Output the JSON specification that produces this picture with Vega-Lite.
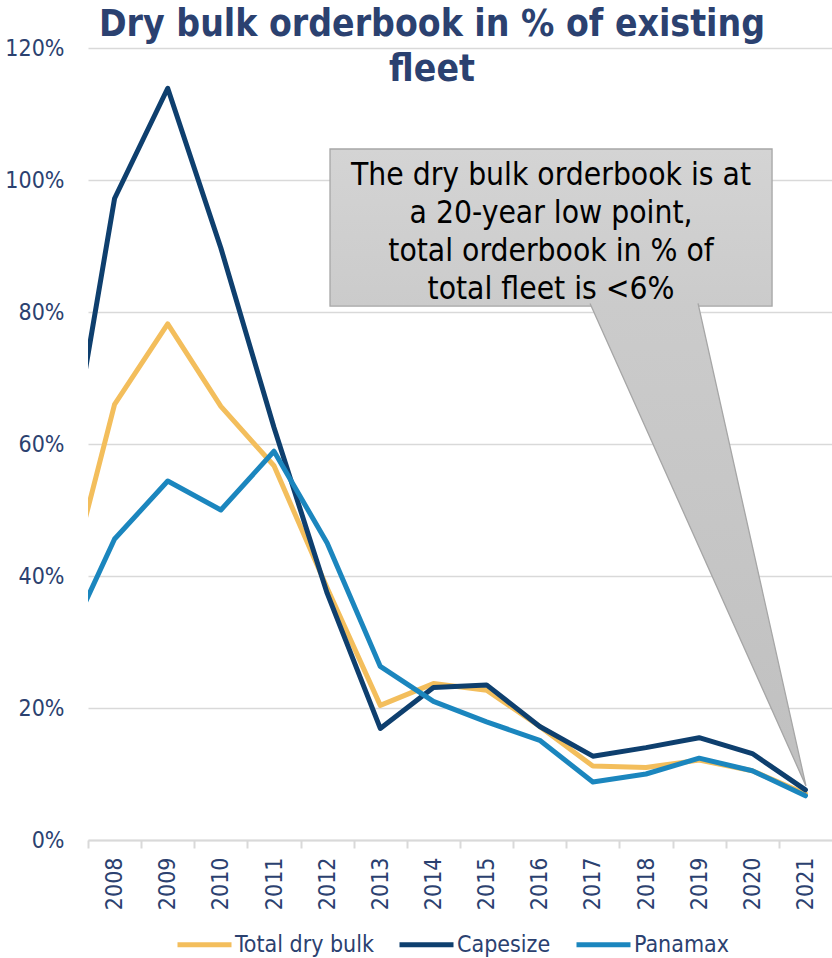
{
  "$schema": "https://vega.github.io/schema/vega-lite/v6.json",
  "autosize": {"type": "none"},
  "width": 744,
  "height": 792,
  "padding": {"left": 88, "top": 48, "right": 0, "bottom": 118},
  "background": "white",
  "config": {
    "view": {"stroke": null},
    "font": "DejaVu Sans Condensed"
  },
  "datasets": {
    "orderbook": [
      {"Year": 2007, "Series": "Total dry bulk", "Share": 0.346},
      {"Year": 2008, "Series": "Total dry bulk", "Share": 0.660},
      {"Year": 2009, "Series": "Total dry bulk", "Share": 0.782},
      {"Year": 2010, "Series": "Total dry bulk", "Share": 0.657},
      {"Year": 2011, "Series": "Total dry bulk", "Share": 0.567},
      {"Year": 2012, "Series": "Total dry bulk", "Share": 0.382},
      {"Year": 2013, "Series": "Total dry bulk", "Share": 0.204},
      {"Year": 2014, "Series": "Total dry bulk", "Share": 0.237},
      {"Year": 2015, "Series": "Total dry bulk", "Share": 0.227},
      {"Year": 2016, "Series": "Total dry bulk", "Share": 0.172},
      {"Year": 2017, "Series": "Total dry bulk", "Share": 0.112},
      {"Year": 2018, "Series": "Total dry bulk", "Share": 0.110},
      {"Year": 2019, "Series": "Total dry bulk", "Share": 0.121},
      {"Year": 2020, "Series": "Total dry bulk", "Share": 0.105},
      {"Year": 2021, "Series": "Total dry bulk", "Share": 0.070},
      {"Year": 2007, "Series": "Capesize", "Share": 0.499},
      {"Year": 2008, "Series": "Capesize", "Share": 0.972},
      {"Year": 2009, "Series": "Capesize", "Share": 1.139},
      {"Year": 2010, "Series": "Capesize", "Share": 0.897},
      {"Year": 2011, "Series": "Capesize", "Share": 0.625},
      {"Year": 2012, "Series": "Capesize", "Share": 0.374},
      {"Year": 2013, "Series": "Capesize", "Share": 0.169},
      {"Year": 2014, "Series": "Capesize", "Share": 0.231},
      {"Year": 2015, "Series": "Capesize", "Share": 0.235},
      {"Year": 2016, "Series": "Capesize", "Share": 0.172},
      {"Year": 2017, "Series": "Capesize", "Share": 0.127},
      {"Year": 2018, "Series": "Capesize", "Share": 0.140},
      {"Year": 2019, "Series": "Capesize", "Share": 0.155},
      {"Year": 2020, "Series": "Capesize", "Share": 0.131},
      {"Year": 2021, "Series": "Capesize", "Share": 0.076},
      {"Year": 2007, "Series": "Panamax", "Share": 0.282},
      {"Year": 2008, "Series": "Panamax", "Share": 0.456},
      {"Year": 2009, "Series": "Panamax", "Share": 0.544},
      {"Year": 2010, "Series": "Panamax", "Share": 0.500},
      {"Year": 2011, "Series": "Panamax", "Share": 0.589},
      {"Year": 2012, "Series": "Panamax", "Share": 0.450},
      {"Year": 2013, "Series": "Panamax", "Share": 0.263},
      {"Year": 2014, "Series": "Panamax", "Share": 0.210},
      {"Year": 2015, "Series": "Panamax", "Share": 0.179},
      {"Year": 2016, "Series": "Panamax", "Share": 0.151},
      {"Year": 2017, "Series": "Panamax", "Share": 0.088},
      {"Year": 2018, "Series": "Panamax", "Share": 0.100},
      {"Year": 2019, "Series": "Panamax", "Share": 0.124},
      {"Year": 2020, "Series": "Panamax", "Share": 0.105},
      {"Year": 2021, "Series": "Panamax", "Share": 0.067}
    ],
    "pointer": [
      {"Year": 2016.947, "Share": 0.813, "Step": 1},
      {"Year": 2021.01, "Share": 0.082, "Step": 2},
      {"Year": 2018.979, "Share": 0.813, "Step": 3}
    ],
    "note": [
      {"Note": "callout"}
    ]
  },
  "layer": [
    {
      "data": {"name": "note"},
      "mark": {
        "type": "text",
        "text": ["Dry bulk orderbook in % of existing", "fleet"],
        "font": "DejaVu Sans Condensed",
        "fontWeight": "bold",
        "fontSize": 37,
        "lineHeight": 45.3,
        "color": "#2B4170",
        "align": "center",
        "baseline": "alphabetic"
      },
      "encoding": {
        "x": {"datum": 2013.973, "type": "quantitative", "axis": {"title": null}},
        "y": {"datum": 1.2186, "type": "quantitative", "axis": {"title": null}}
      }
    },
    {
      "data": {"name": "note"},
      "mark": {
        "type": "rect",
        "fill": {"gradient": "linear", "x1": 0, "y1": 0, "x2": 0, "y2": 1,
                 "stops": [{"offset": 0, "color": "#d4d4d4"}, {"offset": 1, "color": "#cbcbcb"}]},
        "stroke": "#a6a6a6",
        "strokeWidth": 1.3
      },
      "encoding": {
        "x": {"datum": 2012.054, "type": "quantitative", "axis": {"title": null}},
        "x2": {"datum": 2020.372},
        "y": {"datum": 1.047, "type": "quantitative", "axis": {"title": null}},
        "y2": {"datum": 0.809}
      }
    },
    {
      "data": {"name": "pointer"},
      "mark": {
        "type": "line",
        "fill": {"gradient": "linear", "x1": 0, "y1": 0, "x2": 0, "y2": 1,
                 "stops": [{"offset": 0, "color": "#cbcbcb"}, {"offset": 1, "color": "#c0c0c0"}]},
        "stroke": "#a6a6a6",
        "strokeWidth": 1.3,
        "strokeJoin": "miter"
      },
      "encoding": {
        "x": {"field": "Year", "type": "quantitative", "axis": {"title": null}},
        "y": {"field": "Share", "type": "quantitative", "axis": {"title": null}},
        "order": {"field": "Step", "type": "quantitative"}
      }
    },
    {
      "data": {"name": "note"},
      "mark": {
        "type": "text",
        "text": ["The dry bulk orderbook is at", "a 20-year low point,", "total orderbook in % of", "total fleet is <6%"],
        "font": "DejaVu Sans Condensed",
        "fontSize": 31.5,
        "lineHeight": 37.8,
        "color": "#000000",
        "align": "center",
        "baseline": "alphabetic"
      },
      "encoding": {
        "x": {"datum": 2016.213, "type": "quantitative", "axis": {"title": null}},
        "y": {"datum": 0.992, "type": "quantitative", "axis": {"title": null}}
      }
    },
    {
      "data": {"name": "orderbook"},
      "mark": {"type": "line", "strokeWidth": 5, "clip": true, "strokeJoin": "round", "strokeCap": "round"},
      "encoding": {
        "x": {
          "field": "Year",
          "type": "quantitative",
          "scale": {"domain": [2007.5, 2021.5], "nice": false, "zero": false},
          "axis": {
            "title": null,
            "values": [2008, 2009, 2010, 2011, 2012, 2013, 2014, 2015, 2016, 2017, 2018, 2019, 2020, 2021],
            "format": "d",
            "grid": false,
            "labelAngle": -90,
            "labelFlush": false,
            "labelOverlap": false,
            "tickOffset": -26.57,
            "labelOffset": 26.57,
            "domainColor": "#d9d9d9",
            "domainWidth": 2,
            "tickColor": "#d9d9d9",
            "tickWidth": 2,
            "tickSize": 8,
            "labelPadding": 9,
            "labelFont": "DejaVu Sans Condensed",
            "labelFontSize": 23,
            "labelColor": "#2B4170"
          }
        },
        "y": {
          "field": "Share",
          "type": "quantitative",
          "scale": {"domain": [0, 1.2], "nice": false},
          "axis": {
            "title": null,
            "values": [0, 0.2, 0.4, 0.6, 0.8, 1.0, 1.2],
            "format": ".0%",
            "grid": true,
            "gridColor": "#d9d9d9",
            "gridWidth": 1.5,
            "domain": false,
            "ticks": false,
            "labelFlush": false,
            "labelPadding": 24,
            "labelFont": "DejaVu Sans Condensed",
            "labelFontSize": 23,
            "labelColor": "#2B4170"
          }
        },
        "color": {
          "field": "Series",
          "type": "nominal",
          "sort": ["Total dry bulk", "Capesize", "Panamax"],
          "scale": {"domain": ["Total dry bulk", "Capesize", "Panamax"], "range": ["#F3BE5C", "#0E3F6E", "#1B86BE"]},
          "legend": {
            "title": null,
            "orient": "none",
            "direction": "horizontal",
            "legendX": 87,
            "legendY": 867,
            "symbolType": "stroke",
            "symbolSize": 2916,
            "symbolStrokeWidth": 5,
            "labelFont": "DejaVu Sans Condensed",
            "labelFontSize": 23,
            "labelColor": "#2B4170",
            "labelOffset": 1,
            "columnPadding": 15,
            "padding": 0
          }
        }
      }
    }
  ]
}
